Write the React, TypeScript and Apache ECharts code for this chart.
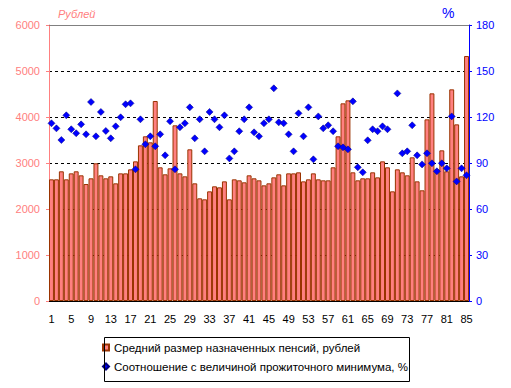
import React, { useEffect, useRef } from "react";
import * as echarts from "echarts";

const regions: string[] = Array.from({ length: 85 }, (_, i) => String(i + 1));

const pensionRub: number[] = [
  2645, 2645, 2819, 2645, 2775, 2819, 2732, 2543, 2667, 2993,
  2732, 2667, 2710, 2558, 2775, 2775, 2862, 3036, 3384, 3580,
  3449, 4348, 2906, 2754, 2884, 3819, 2775, 2710, 3297, 2558,
  2232, 2210, 2384, 2493, 2471, 2601, 2210, 2645, 2623, 2580,
  2732, 2667, 2623, 2514, 2558, 2688, 2754, 2514, 2775, 2775,
  2797, 2601, 2645, 2775, 2645, 2623, 2623, 2906, 3580, 4297,
  4362, 2797, 2623, 2667, 2667, 2797, 2688, 3036, 2906, 2384,
  2862, 2797, 2732, 3123, 2601, 2406, 3949, 4514, 2862, 3275,
  2819, 4601, 3840, 2710, 5326,
];

const ratioPct: (number | null)[] = [
  115.9, 112.6, 105.0, 121.1, 112.0, 109.4, 115.2, 108.7, 129.8, 107.4,
  123.3, 110.9, 106.1, 113.9, 119.8, 128.3, 128.9, 85.9, 118.5, 102.2,
  107.4, 100.9, 108.7, 95.0, 117.2, 85.9, 113.3, 115.9, 126.3, 106.1,
  118.5, 97.6, 123.3, 118.5, 113.3, 121.1, 93.0, 97.6, 110.7, 118.5,
  126.3, 110.0, 107.4, 115.9, 118.5, 138.7, 116.5, 115.9, 108.7, 97.6,
  122.4, 107.4, 126.3, 92.4, 120.4, 112.6, 114.6, 110.7, 100.9, 100.2,
  98.9, 130.2, 87.2, 83.9, 104.8, 112.0, 110.7, 113.9, 112.0, null,
  135.4, 96.3, 97.6, 114.6, 95.0, 89.1, 96.3, 89.8, 84.6, 89.8,
  86.5, 120.4, 78.0, 86.5, 82.0,
];

const leftTicks = { min: 0, max: 6000, interval: 1000 };
const rightTicks = { min: 0, max: 180, interval: 30 };

const barName = "Средний размер назначенных пенсий, рублей";
const dotName = "Соотношение с величиной прожиточного минимума, %";

const FONT = "'Liberation Sans', Arial, sans-serif";
const SALMON = "#FF8080";
const BLUE = "#0000FF";

export default function App() {
  const ref = useRef<HTMLDivElement>(null);
  useEffect(() => {
    if (!ref.current) return;
    const chart = echarts.init(ref.current, null, { renderer: "svg" });
    chart.setOption({
      animation: false,
      backgroundColor: "#fff",
      textStyle: { fontFamily: FONT },
      grid: { left: 49, right: 42, top: 25, bottom: 87, containLabel: false },
      legend: {
        orient: "vertical",
        left: 102,
        top: 341,
        padding: 0,
        itemGap: 6,
        itemWidth: 6,
        itemHeight: 6,
        textStyle: { fontSize: 11.5, color: "#000", fontFamily: FONT, lineHeight: 13 },
        data: [
          { name: barName, icon: "rect" },
          { name: dotName, icon: "diamond" },
        ],
      },
      graphic: [
        {
          type: "rect",
          left: 102,
          top: 335,
          shape: { width: 305, height: 44 },
          style: { fill: "none", stroke: "#000", lineWidth: 1 },
          z: 10,
        },
        {
          type: "line",
          shape: { x1: 49, y1: 25.5, x2: 469, y2: 25.5 },
          style: { stroke: "#808080", lineWidth: 1 },
          z: 10,
        },
        {
          type: "text",
          left: 58,
          top: 8,
          style: { text: "Рублей", fill: SALMON, font: `italic 11px ${FONT}` },
        },
        {
          type: "text",
          left: 442,
          top: 6,
          style: { text: "%", fill: BLUE, font: `14px ${FONT}` },
        },
      ],
      xAxis: {
        type: "category",
        data: regions,
        axisLine: { lineStyle: { color: "#000", width: 1 } },
        axisTick: { show: false },
        axisLabel: { interval: 3, color: "#000", fontSize: 11, margin: 12, fontFamily: FONT },
        splitLine: { show: false },
      },
      yAxis: [
        {
          type: "value",
          ...leftTicks,
          position: "left",
          axisLine: { show: true, lineStyle: { color: SALMON } },
          axisTick: { show: true, length: 3, lineStyle: { color: SALMON } },
          axisLabel: {
            color: SALMON,
            fontSize: 11,
            margin: 9,
            fontFamily: FONT,
            formatter: (v: number) => String(v),
          },
          splitLine: { show: true, lineStyle: { color: "#000", type: [3, 3], width: 1 } },
        },
        {
          type: "value",
          ...rightTicks,
          position: "right",
          axisLine: { show: true, lineStyle: { color: BLUE } },
          axisTick: { show: true, length: 3, lineStyle: { color: BLUE } },
          axisLabel: { color: BLUE, fontSize: 11, margin: 7, fontFamily: FONT },
          splitLine: { show: false },
        },
      ],
      series: [
        {
          name: barName,
          type: "bar",
          yAxisIndex: 0,
          data: pensionRub,
          barCategoryGap: "0%",
          itemStyle: { color: SALMON, borderColor: "#993300", borderWidth: 1 },
        },
        {
          name: dotName,
          type: "scatter",
          yAxisIndex: 1,
          data: ratioPct,
          symbol: "diamond",
          symbolSize: 7,
          z: 5,
          itemStyle: { color: BLUE, borderColor: "#000080", borderWidth: 0.5, opacity: 1 },
        },
      ],
    });
    return () => chart.dispose();
  }, []);
  return (
    <div
      ref={ref}
      style={{ position: "fixed", left: 0, top: 0, width: 511, height: 388 }}
    />
  );
}
